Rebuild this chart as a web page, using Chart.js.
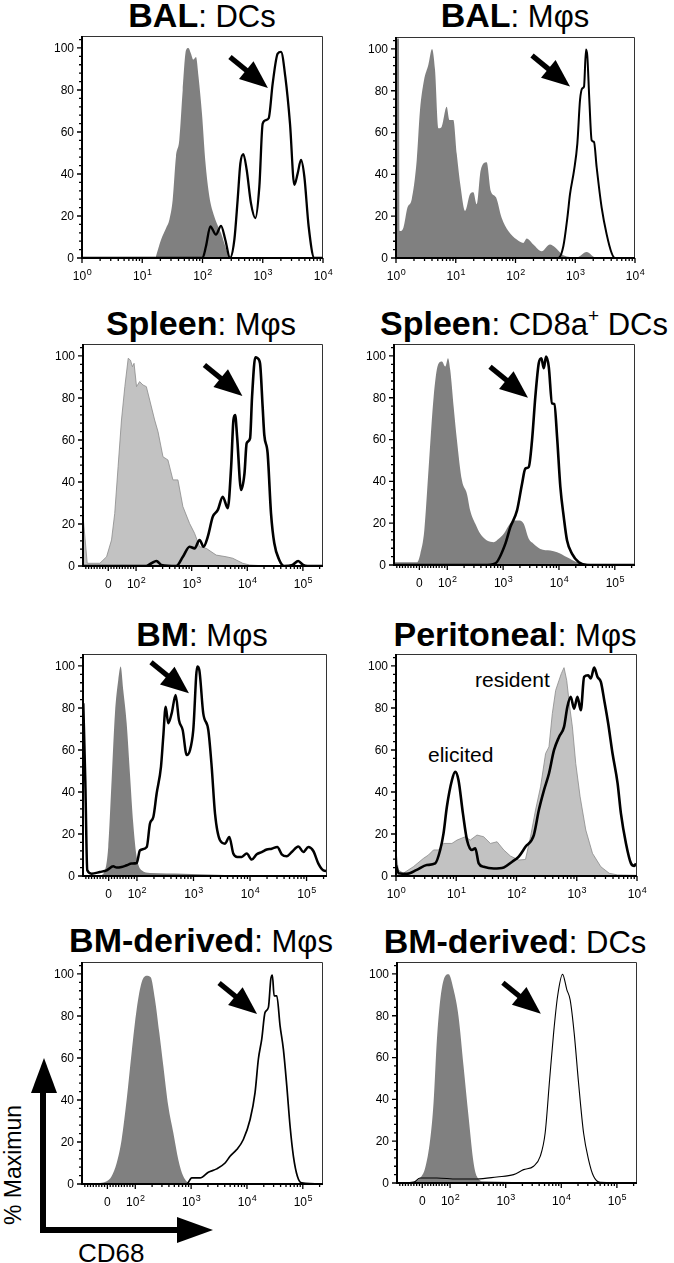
<!DOCTYPE html>
<html><head><meta charset="utf-8">
<script src="https://cdn.jsdelivr.net/npm/chart.js@4/dist/chart.umd.min.js"></script>
<style>
html,body{margin:0;padding:0;background:#fff;}
#page{position:relative;width:674px;height:1263px;overflow:hidden;font-family:"Liberation Sans",Arial,sans-serif;color:#000;}
canvas{position:absolute;}
.title{position:absolute;width:440px;text-align:center;font-size:34px;line-height:34px;white-space:nowrap;}
.title b{font-weight:bold;}
.title span{font-size:31px;}
.title sup{font-size:19px;line-height:0;vertical-align:13px;}
.note{position:absolute;font-size:21px;line-height:21px;white-space:nowrap;}
</style></head>
<body><div id="page">
<div class="title" style="left:-18px;top:-2px"><b>BAL</b><span>: DCs</span></div>
<div class="title" style="left:295px;top:-2px"><b>BAL</b><span>: Mφs</span></div>
<div class="title" style="left:-19px;top:306px"><b>Spleen</b><span>: Mφs</span></div>
<div class="title" style="left:304px;top:306px"><b>Spleen</b><span>: CD8a<sup>+</sup> DCs</span></div>
<div class="title" style="left:-18px;top:617px"><b>BM</b><span>: Mφs</span></div>
<div class="title" style="left:295px;top:617px"><b>Peritoneal</b><span>: Mφs</span></div>
<div class="title" style="left:-19px;top:923px"><b>BM-derived</b><span>: Mφs</span></div>
<div class="title" style="left:295px;top:924px"><b>BM-derived</b><span>: DCs</span></div>
<div class="note" style="left:475px;top:669px">resident</div>
<div class="note" style="left:428px;top:744px">elicited</div>
<svg style="position:absolute;left:0;top:0" width="674" height="1263">
  <rect x="40" y="1088" width="6" height="145" fill="#000"/>
  <rect x="40" y="1227" width="140" height="6" fill="#000"/>
  <polygon points="31,1093 57,1093 44,1058" fill="#000"/>
  <polygon points="177,1217 177,1243 213,1230" fill="#000"/>
</svg>
<div style="position:absolute;left:-87px;top:1150px;width:200px;height:30px;line-height:30px;font-size:23px;text-align:center;transform:rotate(-90deg);white-space:nowrap;">% Maximun</div>
<div style="position:absolute;left:78px;top:1240px;font-size:26px;line-height:26px;white-space:nowrap;">CD68</div>
</div>
<script>
// ---------------- data (x = CD68 fluorescence, y = % of maximum) ----------------
const balDcIsoX  = [16.9, 20.5, 24.8, 28.2, 32, 36.3, 41.2, 46.9, 53.2, 58.2, 64.4, 70.5, 78, 86, 98, 111, 130, 157, 203, 262, 297];
const balDcIsoY  = [0.8, 8.7, 14.2, 18.2, 27.7, 48.3, 56.2, 79.9, 98.9, 100, 97.3, 94.5, 95.7, 86.2, 68.8, 46.7, 29.3, 19.8, 11.9, 2.4, 0];
const balDcCd68X = [1, 100, 114, 135, 167, 203, 239, 286, 338, 383, 425, 476, 541, 638, 753, 878, 997, 1133, 1254, 1461, 1770, 2010, 2371, 2833, 3343, 3800, 4315, 4900, 5780, 7180, 10000];
const balDcCd68Y = [0, 0, 5.5, 15, 11.1, 15.3, 8.7, 0, 8.7, 27.7, 45, 49.5, 42, 26, 19, 34, 64, 65.7, 66.5, 83, 97.3, 98.1, 86.2, 64, 34.8, 40.3, 46.7, 38.8, 15, 0, 0];

const balMacIsoX  = [1, 1.12, 1.16, 1.33, 1.55, 1.83, 2.22, 2.52, 2.94, 3.48, 4.01, 4.5, 5.12, 5.81, 7.05, 7.81, 9.12, 10.4, 12.1, 14.3, 17.3, 19.7, 22.4, 26.1, 32.9, 38.4, 47.2, 58.6, 75.9, 105, 135, 154, 199, 274, 378, 458, 632, 1057, 1552, 2143, 2951];
const balMacIsoY  = [105, 105, 12.9, 14.5, 24, 28, 46.6, 70.7, 85, 92.4, 100, 90, 62, 62.7, 72.3, 66, 66, 49.8, 33.8, 22.5, 30.5, 31.4, 25.7, 41.8, 45.8, 32.2, 29, 19.3, 12.9, 8.8, 7.2, 9.3, 6.4, 3.2, 6.4, 5.1, 1.3, 0.3, 2.9, 0.3, 0];
const balMacCd68X = [1, 521, 632, 738, 817, 953, 1084, 1202, 1315, 1402, 1514, 1593, 1721, 1883, 2061, 2282, 2767, 3357, 4064, 4625, 10000];
const balMacCd68Y = [0, 0, 5.6, 19.3, 30.5, 41.8, 54.7, 75.6, 81.2, 82, 99.7, 96.5, 75.6, 56.3, 55.5, 43.4, 24.1, 11.3, 2.4, 0, 0];

const splMacIsoX  = [-89, -75, -30, -6, 11.6, 23, 35, 47, 59, 71, 79, 86, 92, 102, 116, 133, 153, 176, 216, 248, 305, 374, 460, 566, 695, 916, 1127, 1387, 1828, 2761, 4169, 5470, 8280, 10900, 21700, 230000];
const splMacIsoY  = [22.7, 1.3, 1.3, 4.4, 12.4, 25, 47.3, 69.5, 85.4, 98.9, 98, 94.9, 96.5, 85.4, 87.8, 86.2, 85.4, 79, 69.5, 64, 52, 50.5, 41, 41, 28.3, 20.3, 15.6, 9.2, 8.4, 5.2, 4.4, 3.7, 1.3, 0.5, 0, 0];
const splMacCd68X = [-89, 153, 189, 232, 285, 530, 695, 916, 1127, 1387, 1633, 1950, 2399, 2951, 3622, 4456, 5128, 5636, 6040, 6561, 7740, 8900, 9750, 11220, 12190, 13960, 15350, 16940, 18880, 20230, 23220, 26730, 30620, 37600, 46200, 65200, 82400, 101000, 121000, 230000];
const splMacCd68Y = [0, 0, 1.3, 2.4, 0.5, 0, 4.4, 9.2, 8.4, 12.4, 9.2, 14, 23.5, 26.7, 33, 27.5, 47.3, 69.5, 71.9, 61.6, 36.2, 44, 58.4, 60.8, 80.6, 99.4, 98.9, 96.5, 75.9, 62.4, 53.7, 25, 10.8, 2.9, 0, 0.5, 2.4, 0.5, 0, 0];

const splDcIsoX  = [-89, -8.5, 3.2, 17.4, 33, 50.6, 65.9, 80, 92, 103, 113, 130, 149, 183, 225, 258, 318, 390, 514, 679, 834, 1026, 1259, 1549, 1905, 2339, 2877, 3532, 4645, 7015, 9250, 13960, 21090, 36560, 230000];
const splDcIsoY  = [1.3, 1.3, 5.3, 16.5, 46.9, 80.5, 95.7, 97.3, 94.9, 98.9, 93.3, 75.7, 59.7, 40.5, 34, 26, 19.7, 14.9, 11.7, 10.9, 12.5, 14.9, 18.9, 21.3, 21.3, 19.7, 12.5, 10.1, 7.7, 6.9, 6.1, 3.7, 1.3, 0.5, 0.5];
const splDcCd68X = [-89, 449, 725, 1094, 1346, 1774, 2183, 2500, 2877, 3296, 3776, 4345, 4842, 5346, 5875, 6561, 7516, 8279, 9250, 10590, 12190, 13960, 17180, 22650, 31900, 230000];
const splDcCd68Y = [0, 0, 0.8, 10.1, 18.1, 26.1, 38.9, 46.1, 46.9, 59.7, 80.5, 96.5, 98.9, 94.1, 99.7, 94.9, 77.3, 77, 61.3, 37.3, 22.9, 11.7, 5.3, 1.3, 0, 0];

const bmMacIsoX  = [-89, -31, -13, -1.6, 10.2, 21.9, 33.5, 42, 51, 63, 74.4, 86, 99, 121, 170, 659, 2576, 5058, 230000];
const bmMacIsoY  = [0, 0.3, 2.7, 13.8, 45.6, 77.4, 93.3, 99.7, 88.6, 72.7, 48.8, 25, 9.1, 2.7, 1.4, 1.1, 0.6, 0.3, 0];
const bmMacCd68X = [-89, -82, -75, -60, -31, -7, 16, 27.9, 45, 63, 80, 99, 113, 149, 170, 195, 223, 266, 292, 322, 358, 411, 484, 554, 644, 759, 867, 991, 1167, 1267, 1489, 1828, 2099, 2404, 2944, 3614, 4306, 5058, 5957, 7126, 8750, 10720, 13150, 16110, 19770, 24210, 30410, 36390, 44670, 54700, 71600, 87700, 107600, 131800, 161800, 198200, 230000];
const bmMacCd68Y = [82.2, 45.6, 2.7, 1.1, 1.9, 2.7, 4.6, 4, 4.3, 5.1, 5.9, 6.2, 12.2, 13.8, 25, 28.1, 39.3, 52, 66.3, 80.6, 72.7, 77.4, 86.2, 74.2, 69.5, 57.6, 59.9, 69.5, 99.7, 98.1, 77.4, 69.5, 52, 29.7, 17, 15.4, 18.6, 10.7, 9.1, 9.1, 10.7, 7.8, 10.3, 11.4, 12.6, 13, 13.8, 10.3, 9.4, 11.4, 14.1, 11.4, 13.8, 11.9, 5.9, 2.7, 2.4];

const perResidentX = [1, 1.09, 1.32, 1.94, 2.86, 3.46, 4.19, 5.08, 6.15, 8.47, 10.3, 14.1, 17.1, 22.1, 28.5, 36.9, 47.6, 61.5, 79.4, 109, 141, 171, 207, 251, 304, 346, 393, 447, 508, 555, 615, 681, 764, 847, 962, 1137, 1413, 1824, 2512, 3459, 4764, 10000];
const perResidentY = [11.6, 2.9, 1.3, 4.4, 8.4, 10, 12.4, 12.4, 15.5, 15.5, 17.1, 18.7, 17.1, 19.5, 18.7, 15.5, 16.3, 12.4, 9.5, 7.6, 7.9, 18.7, 31.4, 42.5, 58.3, 61.5, 77.3, 88.4, 93.2, 96.4, 99.2, 93.2, 80.5, 71, 53.6, 37.7, 21.9, 10.8, 4.4, 1.3, 0.5, 0.3];
const perElicitedX = [1, 1.11, 1.51, 2.21, 3.24, 4.47, 5.41, 6.15, 6.99, 8.47, 9.62, 10.9, 12.9, 15.1, 18.2, 20.7, 23.6, 28.5, 41.9, 61.5, 84.7, 109, 141, 194, 235, 286, 346, 419, 508, 615, 698, 794, 903, 1026, 1167, 1325, 1545, 1710, 1945, 2208, 2512, 2858, 3327, 3926, 4764, 5408, 6561, 7943, 9030, 9620];
const perElicitedY = [5.2, 1.3, 1, 2.9, 5.2, 6, 12.4, 20.3, 33, 45.6, 49.6, 45.6, 29.8, 17.1, 12.4, 13.2, 6, 4.4, 3.6, 4.1, 6.8, 9.2, 13.9, 19.5, 31.4, 40.9, 48.8, 59.9, 66.2, 71, 80.5, 85.3, 79.7, 85.3, 78.9, 94.8, 95.6, 94, 99.2, 94.8, 92.4, 83.7, 72.6, 58.3, 44.1, 29.8, 15.5, 6, 4.8, 6];

const bmdMacIsoX  = [-89, -26, -2.6, 15, 33, 50.6, 68.5, 86, 106, 130, 160, 189, 225, 269, 318, 390, 480, 590, 725, 955, 230000];
const bmdMacIsoY  = [0, 0.5, 1.3, 3.7, 10, 21.2, 40.3, 62.6, 83.3, 96, 99.2, 98.4, 88, 72.1, 56.2, 37.1, 24.4, 11.6, 3.7, 0.5, 0];
const bmdMacCd68X = [-89, 834, 1026, 1443, 2032, 2877, 4055, 4977, 6561, 8610, 11380, 13960, 16000, 18400, 21090, 24210, 26730, 28510, 30620, 34200, 39170, 44870, 51640, 59160, 67900, 80000, 95900, 230000];
const bmdMacCd68Y = [0, 0, 2.9, 2.9, 5.6, 7.2, 10, 13.2, 16.4, 21.2, 30.7, 43.5, 59.4, 69, 81.7, 84.1, 97.6, 99.5, 89.6, 89.6, 75.3, 64.2, 46.7, 27.5, 13.2, 3.7, 0.5, 0];

const bmdDcIsoX  = [-89, -31, -7.6, 10.2, 28, 40, 52, 64, 76, 94, 116, 142, 175, 215, 265, 303, 400, 230000];
const bmdDcIsoY  = [0, 0.8, 2.4, 7.2, 20.7, 38.2, 68.5, 87.6, 97.1, 99.8, 92.4, 79.6, 55.7, 31.8, 9.6, 3.2, 0.8, 0];
const bmdDcCd68X = [-89, -31, -7.6, 52, 133, 303, 695, 1387, 2099, 3177, 4178, 5129, 6166, 7278, 8570, 10540, 12610, 14450, 17060, 20460, 25180, 30970, 38100, 50120, 230000];
const bmdDcCd68Y = [0, 0.3, 2.4, 2.4, 1.9, 1.9, 2.9, 4, 6.4, 8, 12.7, 23.9, 49.4, 71.7, 89.2, 99.8, 92.4, 87.6, 71.7, 47.8, 23.9, 11.1, 3.2, 0.3, 0];

// ---------------- tick values ----------------
const yMajorTicks = [0, 20, 40, 60, 80, 100];
const yMinorTicks = [4, 8, 12, 16, 24, 28, 32, 36, 44, 48, 52, 56, 64, 68, 72, 76, 84, 88, 92, 96, 104];
const logMajorTicks = [1, 10, 100, 1000, 10000];
const logTickLabels = [['10', '0'], ['10', '1'], ['10', '2'], ['10', '3'], ['10', '4']];
const logMinorTicks = [2, 3, 4, 5, 6, 7, 8, 9, 20, 30, 40, 50, 60, 70, 80, 90, 200, 300, 400, 500, 600, 700, 800, 900, 2000, 3000, 4000, 5000, 6000, 7000, 8000, 9000];
const lgcMajorTicks = [0, 100, 1000, 10000, 100000];
const lgcTickLabels = [['0', ''], ['10', '2'], ['10', '3'], ['10', '4'], ['10', '5']];
const lgcMinorTicks = [-80, -70, -60, -50, -40, -30, -20, -10, 10, 20, 30, 40, 50, 60, 70, 80, 90, 200, 300, 400, 500, 600, 700, 800, 900, 2000, 3000, 4000, 5000, 6000, 7000, 8000, 9000, 20000, 30000, 40000, 50000, 60000, 70000, 80000, 90000, 200000];

// ---------------- biexponential-style (logicle-like) scale ----------------
const LGC_T = 86;
function lgcFwd(v) { return v >= LGC_T ? Math.log10(v) : Math.log10(LGC_T) + (v - LGC_T) / (LGC_T * Math.LN10); }
function lgcInv(u) { const t = Math.log10(LGC_T); return u >= t ? Math.pow(10, u) : LGC_T * (1 + (u - t) * Math.LN10); }
class LogicleScale extends Chart.LinearScale {
  getPixelForValue(v) {
    const a = lgcFwd(this.min), b = lgcFwd(this.max);
    return this.getPixelForDecimal((lgcFwd(v) - a) / (b - a));
  }
  getValueForPixel(p) {
    const a = lgcFwd(this.min), b = lgcFwd(this.max);
    return lgcInv(a + this.getDecimalForPixel(p) * (b - a));
  }
}
LogicleScale.id = 'logicle';
LogicleScale.defaults = {};
Chart.register(LogicleScale);

// ---------------- axes / ticks / arrow plugin ----------------
const FONT = '"Liberation Sans", Arial, sans-serif';
const axisCfg = {};
const flowAxes = {
  id: 'flowAxes',
  afterDatasetsDraw(chart) {
    const o = axisCfg[chart.canvas.id];
    if (!o) return;
    const {ctx, chartArea: a} = chart;
    const xs = chart.scales.x, ys = chart.scales.y;
    ctx.save();
    ctx.strokeStyle = '#333'; ctx.lineWidth = 1;
    ctx.beginPath();
    ctx.moveTo(a.left, a.top + 0.5); ctx.lineTo(a.right - 0.5, a.top + 0.5); ctx.lineTo(a.right - 0.5, a.bottom);
    ctx.stroke();
    ctx.strokeStyle = '#000'; ctx.lineWidth = 2;
    ctx.beginPath();
    ctx.moveTo(a.left, a.top); ctx.lineTo(a.left, a.bottom); ctx.lineTo(a.right, a.bottom);
    ctx.stroke();
    ctx.lineWidth = 1.3;
    ctx.beginPath();
    yMajorTicks.forEach(v => { const p = ys.getPixelForValue(v); ctx.moveTo(a.left - 5, p); ctx.lineTo(a.left, p); });
    yMinorTicks.forEach(v => { const p = ys.getPixelForValue(v); ctx.moveTo(a.left - 3, p); ctx.lineTo(a.left, p); });
    o.major.forEach(v => { const p = xs.getPixelForValue(v); ctx.moveTo(p, a.bottom); ctx.lineTo(p, a.bottom + 5); });
    o.minor.forEach(v => { const p = xs.getPixelForValue(v); if (p >= a.left && p <= a.right) { ctx.moveTo(p, a.bottom); ctx.lineTo(p, a.bottom + 3); } });
    ctx.stroke();
    ctx.fillStyle = '#000';
    ctx.font = '12px ' + FONT; ctx.textAlign = 'right'; ctx.textBaseline = 'middle';
    yMajorTicks.forEach(v => ctx.fillText(String(v), a.left - 8, ys.getPixelForValue(v) + 0.5));
    ctx.textAlign = 'left'; ctx.textBaseline = 'alphabetic';
    const mainF = '12px ' + FONT, supF = '9px ' + FONT;
    o.major.forEach((v, i) => {
      const [base, sup] = o.labels[i];
      const px = xs.getPixelForValue(v);
      ctx.font = mainF; const w1 = ctx.measureText(base).width;
      ctx.font = supF; const w2 = sup ? ctx.measureText(sup).width : 0;
      const st = px - (w1 + w2) / 2;
      ctx.font = mainF; ctx.fillText(base, st, a.bottom + 22);
      if (sup) { ctx.font = supF; ctx.fillText(sup, st + w1 + 0.5, a.bottom + 17); }
    });
    if (o.arrow) {
      const tx = xs.getPixelForValue(o.arrow[0]), ty = ys.getPixelForValue(o.arrow[1]);
      const ux = 0.775, uy = 0.632, nx = -uy, ny = ux;
      const L = 49, H = 28, W = 11.5, S = 2.6;
      const bx = tx - H * ux, by = ty - H * uy, sx = tx - L * ux, sy = ty - L * uy;
      ctx.beginPath();
      ctx.moveTo(sx + S * nx, sy + S * ny); ctx.lineTo(bx + 2 * ux + S * nx, by + 2 * uy + S * ny);
      ctx.lineTo(bx + 2 * ux - S * nx, by + 2 * uy - S * ny); ctx.lineTo(sx - S * nx, sy - S * ny);
      ctx.closePath(); ctx.fill();
      ctx.beginPath();
      ctx.moveTo(tx, ty); ctx.lineTo(bx + W * nx, by + W * ny); ctx.lineTo(bx - W * nx, by - W * ny);
      ctx.closePath(); ctx.fill();
    }
    ctx.restore();
  }
};
Chart.register(flowAxes);

// ---------------- panels ----------------
function pts(xs, ys) { return xs.map((v, i) => ({x: v, y: ys[i]})); }
function grayFill(xs, ys, light) {
  return {data: pts(xs, ys), fill: 'origin', pointRadius: 0,
    backgroundColor: light ? '#c2c2c2' : '#808080',
    borderColor: light ? '#8a8a8a' : '#808080', borderWidth: light ? 0.8 : 0,
    cubicInterpolationMode: light ? 'default' : 'monotone', tension: 0};
}
function blackLine(xs, ys, w) {
  return {data: pts(xs, ys), fill: false, pointRadius: 0, borderColor: '#000', borderWidth: w,
    cubicInterpolationMode: 'monotone', borderJoinStyle: 'round'};
}

const panels = [
  {id: 'p1', rect: [82, 36, 323, 258], kind: 'log', arrow: [1220, 81],
   sets: [blackLine(balDcCd68X, balDcCd68Y, 2.3), grayFill(balDcIsoX, balDcIsoY)]},
  {id: 'p2', rect: [396, 37, 635, 258], kind: 'log', arrow: [817, 82],
   sets: [blackLine(balMacCd68X, balMacCd68Y, 2), grayFill(balMacIsoX, balMacIsoY)]},
  {id: 'p3', rect: [83, 344, 323, 566], kind: 'lgc', arrow: [8170, 81],
   sets: [blackLine(splMacCd68X, splMacCd68Y, 2.6), grayFill(splMacIsoX, splMacIsoY, true)]},
  {id: 'p4', rect: [394, 344, 635, 565], kind: 'lgc', arrow: [2790, 80],
   sets: [blackLine(splDcCd68X, splDcCd68Y, 2.6), grayFill(splDcIsoX, splDcIsoY)]},
  {id: 'p5', rect: [83, 654, 327, 876], kind: 'lgc', arrow: [832, 87],
   sets: [blackLine(bmMacCd68X, bmMacCd68Y, 2.5), grayFill(bmMacIsoX, bmMacIsoY)]},
  {id: 'p6', rect: [396, 654, 637, 876], kind: 'log', arrow: null,
   sets: [blackLine(perElicitedX, perElicitedY, 2.6), grayFill(perResidentX, perResidentY, true)]},
  {id: 'p7', rect: [82, 962, 323, 1184], kind: 'lgc', arrow: [15170, 81],
   sets: [blackLine(bmdMacCd68X, bmdMacCd68Y, 1.7), grayFill(bmdMacIsoX, bmdMacIsoY)]},
  {id: 'p8', rect: [397, 962, 637, 1183], kind: 'lgc', arrow: [4295, 81],
   sets: [blackLine(bmdDcCd68X, bmdDcCd68Y, 1.1), grayFill(bmdDcIsoX, bmdDcIsoY)]},
];

const PAD = {left: 60, top: 15, right: 15, bottom: 30};
const page = document.getElementById('page');
panels.forEach(p => {
  const [L, T, R, B] = p.rect;
  const cv = document.createElement('canvas');
  cv.id = p.id;
  const w = R - L + PAD.left + PAD.right, h = B - T + PAD.top + PAD.bottom;
  cv.width = w; cv.height = h;
  cv.style.left = (L - PAD.left) + 'px'; cv.style.top = (T - PAD.top) + 'px';
  cv.style.width = w + 'px'; cv.style.height = h + 'px';
  page.appendChild(cv);
  const isLog = p.kind === 'log';
  axisCfg[p.id] = {
    major: isLog ? logMajorTicks : lgcMajorTicks,
    minor: isLog ? logMinorTicks : lgcMinorTicks,
    labels: isLog ? logTickLabels : lgcTickLabels,
    arrow: p.arrow
  };
  new Chart(cv.getContext('2d'), {
    type: 'line',
    data: {datasets: p.sets},
    options: {
      responsive: false, animation: false, devicePixelRatio: 1, events: [],
      layout: {padding: PAD},
      plugins: {legend: {display: false}, tooltip: {enabled: false}, title: {display: false}},
      scales: {
        x: isLog ? {type: 'logarithmic', min: 1, max: 10000, display: false}
                 : {type: 'logicle', min: -90, max: 230000, display: false, bounds: 'data'},
        y: {type: 'linear', min: 0, max: 105.7, display: false}
      }
    }
  });
});
</script>
</body></html>
